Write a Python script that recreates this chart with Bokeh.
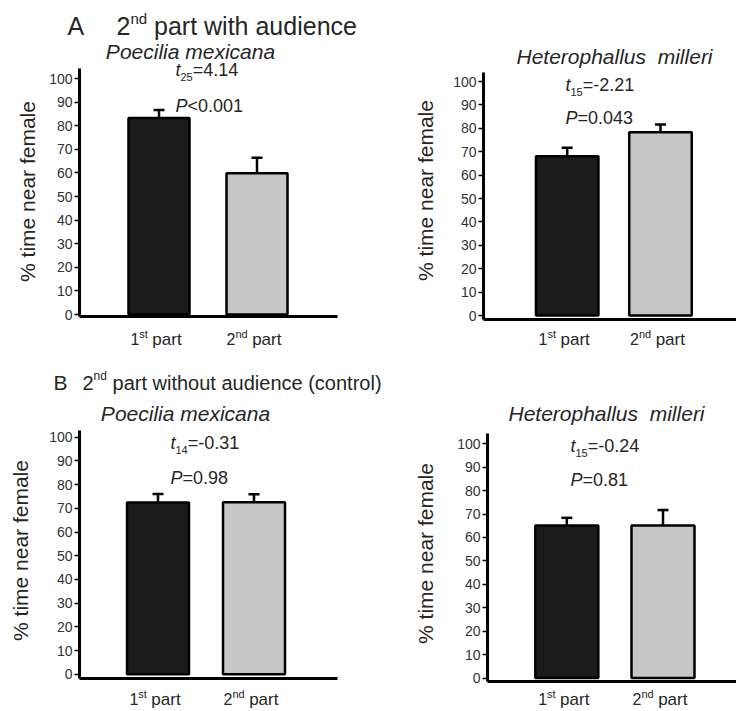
import math
from bokeh.plotting import figure
from bokeh.models import Range1d, FixedTicker, Label, Whisker, ColumnDataSource, TeeHead
from bokeh.layouts import column, row
from bokeh.embed import file_html
from bokeh.resources import INLINE

# ---------------- data ----------------
part_num = ["1", "2"]
part_sup = ["st", "nd"]
part_word = "part"
y_ticks = [0, 10, 20, 30, 40, 50, 60, 70, 80, 90, 100]
y_label = "% time near female"
species = ["Poecilia mexicana", "Heterophallus  milleri"]

a_pm_mean = [83.3, 59.9]
a_pm_sem = [3.4, 6.5]
a_hm_mean = [68.1, 78.3]
a_hm_sem = [3.6, 3.3]
b_pm_mean = [72.4, 72.6]
b_pm_sem = [3.6, 3.3]
b_hm_mean = [65.1, 65.1]
b_hm_sem = [3.3, 6.6]

a_pm_stats = ("25", "=4.14", "<0.001")
a_hm_stats = ("15", "=-2.21", "=0.043")
b_pm_stats = ("14", "=-0.31", "=0.98")
b_hm_stats = ("15", "=-0.24", "=0.81")

heading_a = ("A", "2", "nd", "part with audience")
heading_b = ("B", "2", "nd", "part without audience (control)")

bar_colors = ["#1b1b1b", "#c6c6c6"]

# ---------------- styling helpers ----------------
FONT = "Liberation Sans"
TXT = "#262626"
BASE_FIX = 0.32   # Bokeh's alphabetic baseline sits this many font sizes lower

W = {' ': 278, '%': 889, '(': 333, ')': 333, '-': 333, '.': 278, '<': 584, '=': 584,
     'A': 667, 'B': 667, 'H': 722, 'P': 667,
     'a': 556, 'b': 556, 'c': 500, 'd': 556, 'e': 556, 'f': 278, 'h': 556, 'i': 222,
     'l': 222, 'm': 833, 'n': 556, 'o': 556, 'p': 556, 'r': 333, 's': 500, 't': 278,
     'u': 556, 'w': 722, 'x': 500, 'y': 500}


def tw(s, size):
    return sum(W.get(ch, 556) for ch in s) / 1000.0 * size


class Panel:
    """A figure whose frame fills it; positions are given in picture pixels."""

    def __init__(self, ox, oy, w, h, axis_x, right_x, c1, c2, y0, ppu, top, bottom):
        self.c1, self.sp, self.y0, self.ppu = c1, c2 - c1, y0, ppu
        p = figure(width=w, height=h, output_backend="svg", toolbar_location=None, title=None,
                   x_range=Range1d(self.dx(ox), self.dx(ox + w)),
                   y_range=Range1d(self.dy(oy + h), self.dy(oy)), min_border=0)
        p.outline_line_color = None
        p.grid.visible = False
        p.background_fill_color = "white"
        p.border_fill_color = "white"
        ya = p.yaxis[0]
        ya.fixed_location = self.dx(axis_x)
        ya.bounds = (self.dy(bottom), self.dy(top))
        ya.ticker = FixedTicker(ticks=y_ticks)
        ya.axis_line_width = 3
        ya.axis_line_color = "black"
        ya.major_tick_in = 0
        ya.major_tick_out = 5
        ya.major_tick_line_width = 1.5
        ya.minor_tick_line_color = None
        ya.major_label_text_font = FONT
        ya.major_label_text_font_size = "14px"
        ya.major_label_text_color = "#333333"
        ya.major_label_standoff = 2
        xa = p.xaxis[0]
        xa.fixed_location = self.dy(bottom)
        xa.bounds = (self.dx(axis_x), self.dx(right_x))
        xa.ticker = FixedTicker(ticks=[])
        xa.axis_line_width = 3
        xa.axis_line_color = "black"
        xa.major_tick_line_color = None
        xa.minor_tick_line_color = None
        xa.major_label_text_font_size = "0px"
        self.p = p

    def dx(self, rx):
        return 1 + (rx - self.c1) / self.sp

    def dy(self, ry):
        return (self.y0 - ry) / self.ppu

    def label(self, rx, ry, text, size, style="normal", align="left", baseline="alphabetic",
              angle=0.0):
        if baseline == "alphabetic":
            ry = ry - BASE_FIX * size
        self.p.add_layout(Label(x=self.dx(rx), y=self.dy(ry), text=text, text_font=FONT,
                                text_font_size=f"{size}px", text_font_style=style,
                                text_color=TXT, text_align=align, text_baseline=baseline,
                                angle=angle))

    def rich(self, rx, base, pieces, align="left"):
        # pieces: (text, size, style, rise); a text of " " is a gap only
        total = sum(tw(t, s) for t, s, _, _ in pieces)
        x = rx - total / 2 if align == "center" else rx
        for t, s, st, rise in pieces:
            if t.strip():
                self.label(x, base - rise, t, s, st)
            x += tw(t, s)

    def bars(self, means, sems, width_px):
        p = self.p
        xs = [1, 2]
        p.vbar(x=xs, top=means, bottom=0, width=width_px / self.sp, fill_color=bar_colors,
               line_color="black", line_width=2.5)
        src = ColumnDataSource(dict(x=xs, lower=means, upper=[m + s for m, s in zip(means, sems)]))
        wk = Whisker(source=src, base="x", lower="lower", upper="upper", dimension="height",
                     line_color="black", line_width=2.5, lower_head=None,
                     upper_head=TeeHead(size=11, line_color="black", line_width=2.5),
                     level="overlay")
        p.add_layout(wk)


def part_labels(pan, centers, base):
    for c, n, s in zip(centers, part_num, part_sup):
        pan.rich(c - 3, base, [(n, 16, "normal", 0), (s, 11, "normal", 6.5),
                               (" ", 16, "normal", 0), (part_word, 17, "normal", 0)],
                 align="center")


def stats(pan, x_left, base_t, base_p, st):
    df, tval, pval = st
    pan.rich(x_left, base_t, [("t", 18, "italic", 0), (df, 11, "normal", -5),
                              (tval, 18, "normal", 0)])
    pan.rich(x_left, base_p, [("P", 18, "italic", 0), (pval, 18, "normal", 0)])


# ---------------- panel A, Poecilia ----------------
tl = Panel(0, 0, 400, 355, 79, 337, 158.5, 256.5, 314, 2.36, 68, 316)
tl.bars(a_pm_mean, a_pm_sem, 61)
tl.label(67, 33.5, heading_a[0], 25)
tl.rich(116, 33.5, [(heading_a[1], 25, "normal", 0), (heading_a[2], 15, "normal", 11),
                    (" ", 25, "normal", 0), (heading_a[3], 25, "normal", 0)])
tl.label(190, 58, species[0], 21, "italic", align="center")
stats(tl, 175, 75.5, 111.5, a_pm_stats)
tl.label(27, 191, y_label, 21, align="center", baseline="middle", angle=math.pi / 2)
part_labels(tl, [158.5, 256.5], 344)

# ---------------- panel A, Heterophallus ----------------
tr = Panel(400, 0, 336, 355, 483, 736, 566.7, 660, 315, 2.34, 72, 319)
tr.bars(a_hm_mean, a_hm_sem, 62.5)
tr.label(614, 63, species[1].replace("  ", " \u00a0"), 21, "italic", align="center")
stats(tr, 565, 90, 123, a_hm_stats)
tr.label(425, 190, y_label, 21, align="center", baseline="middle", angle=math.pi / 2)
part_labels(tr, [566.7, 660], 344)

# ---------------- panel B, Poecilia ----------------
bl = Panel(0, 355, 400, 355, 79, 337, 157.5, 253.5, 673.7, 2.37, 430, 678)
bl.bars(b_pm_mean, b_pm_sem, 62)
bl.label(53, 389, heading_b[0], 21)
bl.rich(82, 389, [(heading_b[1], 20, "normal", 0), (heading_b[2], 12, "normal", 10),
                  (" ", 20, "normal", 0), (heading_b[3], 20, "normal", 0)])
bl.label(185, 420, species[0], 21, "italic", align="center")
stats(bl, 170, 448, 483, b_pm_stats)
bl.label(20, 550, y_label, 21, align="center", baseline="middle", angle=math.pi / 2)
part_labels(bl, [157.5, 253.5], 704)

# ---------------- panel B, Heterophallus ----------------
br = Panel(400, 355, 336, 355, 487, 736, 566.3, 662.5, 677.5, 2.342, 433, 681)
br.bars(b_hm_mean, b_hm_sem, 63)
br.label(606, 420, species[1].replace("  ", " \u00a0"), 21, "italic", align="center")
stats(br, 570, 451.5, 485, b_hm_stats)
br.label(425, 553, y_label, 21, align="center", baseline="middle", angle=math.pi / 2)
part_labels(br, [566.3, 662.5], 704)

layout = column(row(tl.p, tr.p), row(bl.p, br.p))
open("out.html", "w").write(file_html(layout, INLINE))
